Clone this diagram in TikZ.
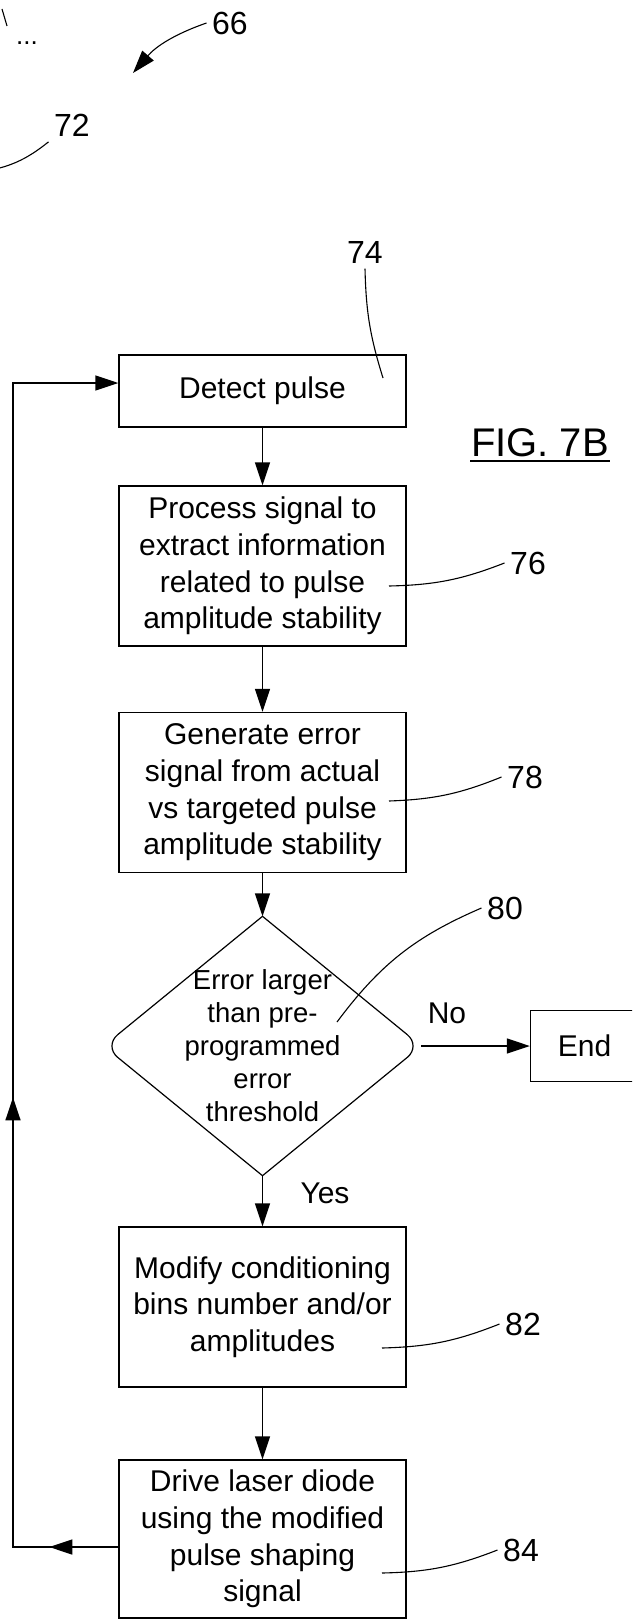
\documentclass[tikz,border=0pt]{standalone}
\usepackage{fontspec}
\setmainfont{Liberation Sans}
\usetikzlibrary{arrows.meta, positioning, shapes.geometric, decorations.markings}

\begin{document}
\begin{tikzpicture}[x=1pt,y=1pt,on grid,>={Triangle[length=23pt,width=15pt]},line width=1.4pt,
	stepbox/.style={draw, rectangle, minimum width=287pt, minimum height=160pt, inner sep=0pt, align=center, font=\fontsize{30}{36.7}\selectfont},
	decision/.style={diamond, minimum width=316pt, minimum height=258pt, inner sep=0pt},
	reftext/.style={font=\fontsize{32}{38}\selectfont, inner sep=5pt},
	leader/.style={line width=1.1pt}]
	
	\useasboundingbox (0,0) rectangle (632,-1619);
	\clip (0,0) rectangle (632,-1619);
	
	\node (detect) [stepbox, minimum height=72pt] at (262.5,-391) {Detect pulse};
	\node (process) [stepbox, below=175pt of detect] {Process signal to\\extract information\\related to pulse\\amplitude stability};
	\node (generate) [stepbox, below=226.5pt of process] {Generate error\\signal from actual\\vs targeted pulse\\amplitude stability};
	\node (dec) [decision, below=253.5pt of generate] {};
	\node (dectext) [align=center, inner sep=0pt, font=\fontsize{27.5}{33}\selectfont] at (dec) {Error larger\\than pre-\\programmed\\error\\threshold};
	\node (end) [stepbox, minimum width=108pt, minimum height=71pt, right=322pt of dec] {End};
	\node (modify) [stepbox, below=261pt of dec] {Modify conditioning\\bins number and/or\\amplitudes};
	\node (drive) [stepbox, minimum height=158pt, below=232pt of modify] {Drive laser diode\\using the modified\\pulse shaping\\signal};
	
	% diamond: sharp top and bottom, rounded sides
	\draw [line width=1.2pt, line cap=round, rounded corners=18pt] (dec.north) -- (dec.east) -- (dec.south);
	\draw [line width=1.2pt, line cap=round, rounded corners=18pt] (dec.north) -- (dec.west) -- (dec.south);
	
	\node (no) [font=\fontsize{30}{36}\selectfont] at (447,-1013) {No};
	\node (yes) [font=\fontsize{30}{36}\selectfont] at (325,-1193) {Yes};
	\node (fig) [font=\fontsize{40}{48}\selectfont, inner sep=0pt, anchor=base] at (540,-456) {FIG. 7B};
	\draw [line width=2.5pt] ([yshift=-5pt]fig.base west) -- ([yshift=-5pt]fig.base east);
	
	\path [->]
	(detect) edge (process)
	(process) edge (generate)
	(generate) edge (dec)
	(dec) edge (end)
	(dec) edge (modify)
	(modify) edge (drive);
	
	% loop back to the start
	\coordinate (fbbot) at (13,-1547);
	\coordinate (fbtop) at (13,-383);
	\draw [->, postaction={decorate}, decoration={markings, mark=at position 69pt with {\arrow{>}}, mark=at position 555pt with {\arrow{>}}}]
	([yshift=-8pt]drive.west) -- (fbbot) -- (fbtop) -- ([yshift=8pt]detect.west);
	
	% reference numerals
	\node (n66) [reftext] at (230,-23) {66};
	\node (n72) [reftext] at (72,-125) {72};
	\node (n74) [reftext] at (365,-252) {74};
	\node (n76) [reftext] at (528,-563) {76};
	\node (n78) [reftext] at (525,-777) {78};
	\node (n80) [reftext] at (505,-908) {80};
	\node (n82) [reftext] at (523,-1324) {82};
	\node (n84) [reftext] at (521,-1550) {84};
	\node (dots) [font=\fontsize{26}{30}\selectfont, inner sep=0pt, anchor=base] at (27,-45) {...};
	
	\coordinate (c66) at (133,-73);
	\coordinate (c72) at (-20,-172);
	\coordinate (c74) at (383,-378);
	\coordinate (c76) at (389,-586);
	\coordinate (c78) at (389,-801);
	\coordinate (c80) at (337,-1022);
	\coordinate (c82) at (382,-1348);
	\coordinate (c84) at (382,-1573);
	
	\draw [leader, ->] (n66.west) to [bend right=15] (c66);
	\draw [leader] (n72.south west) to [bend left=15] (c72);
	\draw [leader] (c74) to [bend left=8] (n74.south);
	\draw [leader] (c76) to [bend right=10] (n76.west);
	\draw [leader] (c78) to [bend right=10] (n78.west);
	\draw [leader] (c80) to [bend left=15] (n80.west);
	\draw [leader] (c82) to [bend right=10] (n82.west);
	\draw [leader] (c84) to [bend right=10] (n84.west);
	\draw [leader] (2,-9) -- (7,-26);
	
\end{tikzpicture}
\end{document}
